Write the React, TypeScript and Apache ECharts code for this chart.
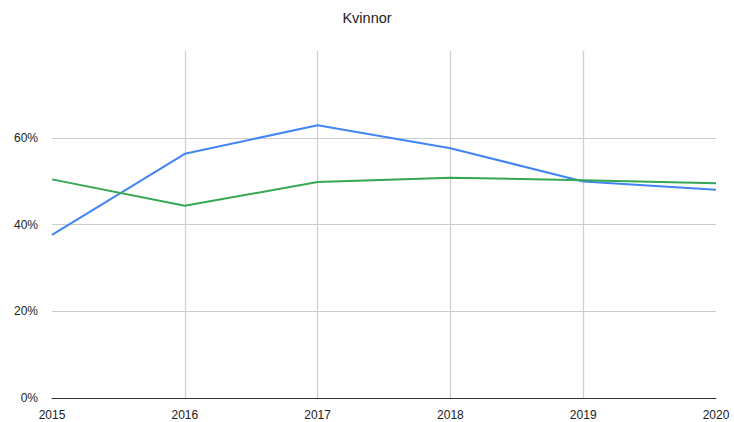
import React, { useEffect, useRef } from "react";
import * as echarts from "echarts";

const years = ["2015", "2016", "2017", "2018", "2019", "2020"];
const blueSeries = [0.376, 0.563, 0.629, 0.576, 0.499, 0.48];
const greenSeries = [0.504, 0.443, 0.498, 0.508, 0.502, 0.495];
const titleText = "Kvinnor";

export default function App() {
  const ref = useRef<HTMLDivElement>(null);
  useEffect(() => {
    if (!ref.current) return;
    const chart = echarts.init(ref.current, undefined, { renderer: "svg" });
    chart.setOption({
      animation: false,
      backgroundColor: "#ffffff",
      title: {
        text: titleText,
        left: "center",
        top: 10,
        padding: 0,
        textStyle: {
          fontFamily: "Liberation Sans, Arial, sans-serif",
          fontSize: 14.5,
          fontWeight: "normal",
          color: "#222",
        },
      },
      grid: { left: 52, right: 18, top: 51, bottom: 24, containLabel: false },
      xAxis: {
        type: "category",
        data: years,
        boundaryGap: false,
        axisLine: { lineStyle: { color: "#333", width: 1 } },
        axisTick: { show: false },
        axisLabel: {
          color: "#222",
          fontSize: 12,
          fontFamily: "Liberation Sans, Arial, sans-serif",
          margin: 11,
          showMaxLabel: true,
        },
        splitLine: {
          show: true,
          lineStyle: {
            color: ["rgba(0,0,0,0)", "#d0d0d0", "#d0d0d0", "#d0d0d0", "#d0d0d0", "rgba(0,0,0,0)"],
            width: 1.3,
          },
        },
      },
      yAxis: {
        type: "value",
        min: 0,
        max: 0.8,
        interval: 0.2,
        axisLine: { show: false },
        axisTick: { show: false },
        axisLabel: {
          color: "#222",
          fontSize: 12,
          fontFamily: "Liberation Sans, Arial, sans-serif",
          margin: 14,
          showMaxLabel: false,
          formatter: (v: number) => Math.round(v * 100) + "%",
        },
        splitLine: {
          show: true,
          lineStyle: {
            color: ["#cccccc", "#cccccc", "#cccccc", "#cccccc", "rgba(0,0,0,0)"],
            width: 1,
          },
        },
      },
      series: [
        {
          type: "line",
          data: blueSeries,
          symbol: "none",
          lineStyle: { color: "#4285F4", width: 2 },
          itemStyle: { color: "#4285F4" },
        },
        {
          type: "line",
          data: greenSeries,
          symbol: "none",
          lineStyle: { color: "#34A853", width: 2 },
          itemStyle: { color: "#34A853" },
        },
      ],
    });
    return () => chart.dispose();
  }, []);
  return <div ref={ref} style={{ width: 734, height: 422, position: "absolute", left: 0, top: 0 }} />;
}
